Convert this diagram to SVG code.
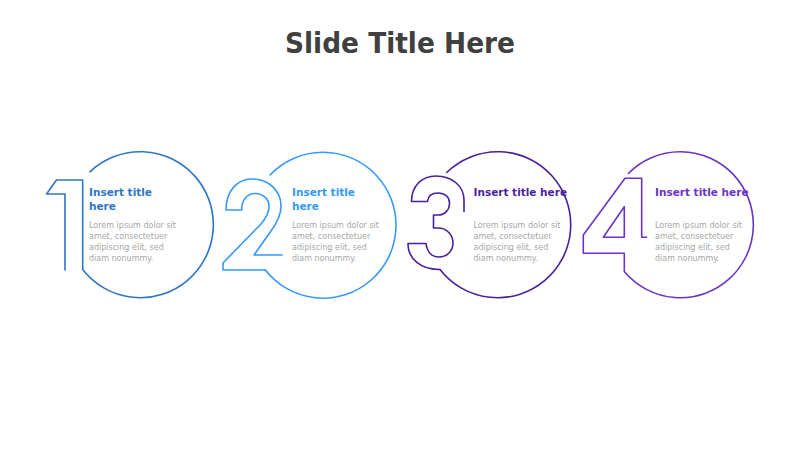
<svg xmlns="http://www.w3.org/2000/svg" width="800" height="450" viewBox="0 0 800 450">
  <style>
    .outline { fill: none; stroke-width: 1.6; stroke-linejoin: round; stroke-linecap: round; }
    .head { font-family: "DejaVu Sans", Verdana, sans-serif; font-weight: bold; font-size: 10.5px; }
    .body { font-family: "DejaVu Sans", Verdana, sans-serif; font-size: 8px; fill: #A6A6A6; }
    .title { font-family: "DejaVu Sans", Verdana, sans-serif; font-weight: bold; font-size: 29px; fill: #404040; }
    .c1 { stroke: #2E75C6; } .t1 { fill: #2E75C6; }
    .c2 { stroke: #3399FF; } .t2 { fill: #3399FF; }
    .c3 { stroke: #4A1F9E; } .t3 { fill: #4A1F9E; }
    .c4 { stroke: #6A33C9; } .t4 { fill: #6A33C9; }
  </style>
  <rect width="800" height="450" fill="#FFFFFF"/>
  <text class="title" x="400" y="53" text-anchor="middle" textLength="230" lengthAdjust="spacingAndGlyphs">Slide Title Here</text>

  <g id="node1">
    <path class="outline c1" d="M 65,270 L 65,194 L 46.5,194 L 56.5,180 L 82.7,180 L 82.7,269.5 A 73 73 0 1 0 90,171.8"/>
    <text class="head t1" x="89" y="195.5">Insert title</text>
    <text class="head t1" x="89" y="209.5">here</text>
    <text class="body" x="89" y="227.5">Lorem ipsum dolor sit</text>
    <text class="body" x="89" y="238.5">amet, consectetuer</text>
    <text class="body" x="89" y="249.5">adipiscing elit, sed</text>
    <text class="body" x="89" y="260.5">diam nonummy.</text>
  </g>

  <g id="node2">
    <path class="outline c2" d="M 282,255 L 254,255 L 271,231 C 277,223 281,216 281,206 C 281,191 269,179 252,179 C 237,179 226,191 226,210 L 241.7,210 C 241.7,200 247,193.5 255,193.5 C 263,193.5 269,199 269,206.5 C 269,213 266,218 261,224 L 223,263 L 223,270 L 265,270 L 265,269.5 A 73 73 0 1 0 270,175"/>
    <text class="head t2" x="292" y="195.5">Insert title</text>
    <text class="head t2" x="292" y="209.5">here</text>
    <text class="body" x="292" y="227.5">Lorem ipsum dolor sit</text>
    <text class="body" x="292" y="238.5">amet, consectetuer</text>
    <text class="body" x="292" y="249.5">adipiscing elit, sed</text>
    <text class="body" x="292" y="260.5">diam nonummy.</text>
  </g>

  <g id="node3">
    <path class="outline c3" d="M 464,211.5 L 464,200 C 464,186 452,176 436,176 C 421,176 411.5,187 411.5,201.5 L 427.5,201.5 C 428,196 432,193 438,193 C 445,193 449.5,197 449.5,203 C 449.5,210 445,215 438,215 L 433.5,215 L 433.5,228 L 438,228 C 447,228 453,235 453,243 C 453,251 447,257 439,257 C 432,257 427,252 426,243.5 L 408,243.5 C 408,259 421,270 440,269.4 A 73 73 0 1 0 446.7,172.5"/>
    <text class="head t3" x="473.5" y="195.5">Insert title here</text>
    <text class="body" x="473.5" y="227.5">Lorem ipsum dolor sit</text>
    <text class="body" x="473.5" y="238.5">amet, consectetuer</text>
    <text class="body" x="473.5" y="249.5">adipiscing elit, sed</text>
    <text class="body" x="473.5" y="260.5">diam nonummy.</text>
  </g>

  <g id="node4">
    <path class="outline c4" d="M 646.7,237.3 L 641.7,237.3 L 641.7,178.3 L 625,178.3 L 583.3,235 L 583.3,253.3 L 624.3,253.3 L 624.3,271.5 A 73 73 0 1 0 628.3,173.5"/>
    <path class="outline c4" d="M 624.3,206.7 L 624.3,237.3 L 603.3,237.3 Z"/>
    <text class="head t4" x="655" y="195.5">Insert title here</text>
    <text class="body" x="655" y="227.5">Lorem ipsum dolor sit</text>
    <text class="body" x="655" y="238.5">amet, consectetuer</text>
    <text class="body" x="655" y="249.5">adipiscing elit, sed</text>
    <text class="body" x="655" y="260.5">diam nonummy.</text>
  </g>

  <g id="connectors"></g>
</svg>
